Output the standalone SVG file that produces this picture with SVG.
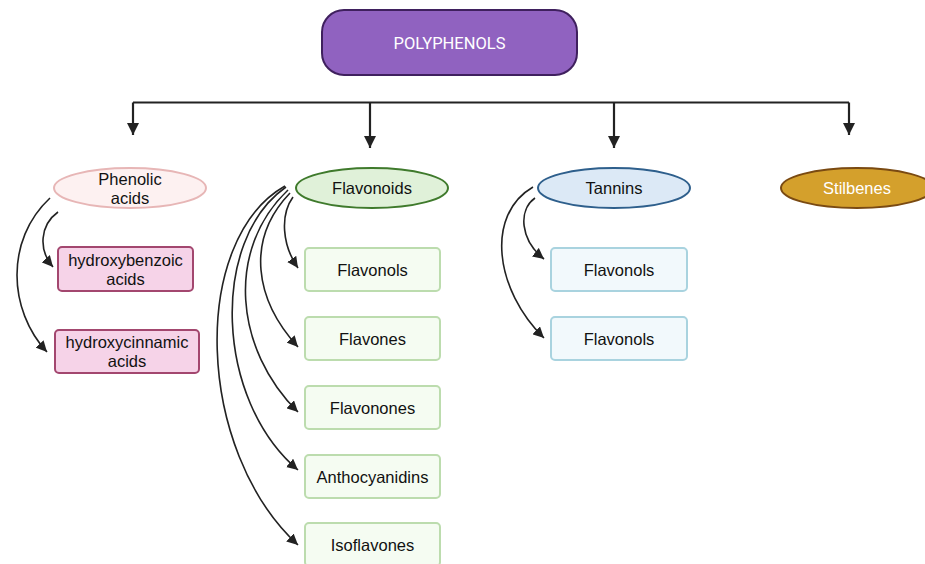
<svg xmlns="http://www.w3.org/2000/svg" width="925" height="564" viewBox="0 0 925 564">
<defs>
<marker id="ah" viewBox="0 0 10 10" refX="10" refY="5" markerWidth="11" markerHeight="11" markerUnits="userSpaceOnUse" orient="auto"><path d="M0,0 L10,5 L0,10 z" fill="#222"/></marker>
<marker id="ah2" viewBox="0 0 10 10" refX="10" refY="5" markerWidth="13" markerHeight="12" markerUnits="userSpaceOnUse" orient="auto"><path d="M0,0 L10,5 L0,10 z" fill="#222"/></marker>
</defs>
<style>
text{font-family:"Liberation Sans",Arial,sans-serif;font-size:16.5px;fill:#111;text-anchor:middle;dominant-baseline:central}
.w{fill:#fff}
.r{font-family:Roboto,"Liberation Sans",sans-serif;font-size:16.5px}
.c{fill:none;stroke:#222;stroke-width:1.6}
.s{fill:none;stroke:#222;stroke-width:2.2}
.pink{fill:#f6d3e8;stroke:#a3476f;stroke-width:2}
.green{fill:#f5fcf2;stroke:#bcdcae;stroke-width:2}
.blue{fill:#f2f9fc;stroke:#a9d3df;stroke-width:2}
</style>
<rect width="925" height="564" fill="#fff"/>
<g id="connectors">
<path class="s" d="M133,102.5 H849"/>
<path class="s" d="M133,102.5 V135" marker-end="url(#ah2)"/>
<path class="s" d="M370,102.5 V148" marker-end="url(#ah2)"/>
<path class="s" d="M614,102.5 V148" marker-end="url(#ah2)"/>
<path class="s" d="M849,102.5 V135" marker-end="url(#ah2)"/>
<path class="c" d="M58,212 C40,225 38,250 53,267" marker-end="url(#ah)"/>
<path class="c" d="M50,198 C5,240 8,310 47,352" marker-end="url(#ah)"/>
<path class="c" d="M293,197 C280,215 282,245 298,268" marker-end="url(#ah)"/>
<path class="c" d="M290,193 C245,240 255,300 298,347" marker-end="url(#ah)"/>
<path class="c" d="M288,190 C225,250 235,350 298,412" marker-end="url(#ah)"/>
<path class="c" d="M286,187 C210,240 215,400 298,470" marker-end="url(#ah)"/>
<path class="c" d="M285,186 C190,240 195,450 298,545" marker-end="url(#ah)"/>
<path class="c" d="M535,198 C518,210 520,240 544,259" marker-end="url(#ah)"/>
<path class="c" d="M533,187 C485,215 495,290 544,338" marker-end="url(#ah)"/>
</g>
<g id="polyphenols"><rect x="322" y="10" width="255" height="65" rx="22" fill="#9062c0" stroke="#3f205e" stroke-width="2"/><text class="w r" x="449.5" y="43">POLYPHENOLS</text></g>
<g id="phenolic"><ellipse cx="130" cy="188" rx="76" ry="20" fill="#fdf1f1" stroke="#e7b6b6" stroke-width="2"/><text x="130" y="179">Phenolic</text><text x="130" y="198">acids</text></g>
<g id="flavonoids"><ellipse cx="372" cy="188" rx="76" ry="20" fill="#e0f1d9" stroke="#3f7a2c" stroke-width="2"/><text x="372" y="188">Flavonoids</text></g>
<g id="tannins"><ellipse cx="614" cy="188" rx="76" ry="20" fill="#dce9f6" stroke="#2e5f8c" stroke-width="2"/><text x="614" y="188">Tannins</text></g>
<g id="stilbenes"><ellipse cx="857" cy="188" rx="76" ry="20" fill="#d4a02c" stroke="#7a4a12" stroke-width="2"/><text class="w" x="857" y="188">Stilbenes</text></g>
<g id="hydroxybenzoic"><rect class="pink" x="58" y="247" width="135" height="44" rx="4"/><text x="125.5" y="260">hydroxybenzoic</text><text x="125.5" y="279">acids</text></g>
<g id="hydroxycinnamic"><rect class="pink" x="55" y="330" width="144" height="43" rx="4"/><text x="127" y="342">hydroxycinnamic</text><text x="127" y="361">acids</text></g>
<g id="flavonols"><rect class="green" x="305" y="248" width="135" height="43" rx="4"/><text x="372.5" y="269.5">Flavonols</text></g>
<g id="flavones"><rect class="green" x="305" y="317" width="135" height="43" rx="4"/><text x="372.5" y="338.5">Flavones</text></g>
<g id="flavonones"><rect class="green" x="305" y="386" width="135" height="43" rx="4"/><text x="372.5" y="407.5">Flavonones</text></g>
<g id="anthocyanidins"><rect class="green" x="305" y="455" width="135" height="43" rx="4"/><text x="372.5" y="476.5">Anthocyanidins</text></g>
<g id="isoflavones"><rect class="green" x="305" y="523" width="135" height="43" rx="4"/><text x="372.5" y="545">Isoflavones</text></g>
<g id="tannin-flavonols-1"><rect class="blue" x="551" y="248" width="136" height="43" rx="4"/><text x="619" y="269.5">Flavonols</text></g>
<g id="tannin-flavonols-2"><rect class="blue" x="551" y="317" width="136" height="43" rx="4"/><text x="619" y="338.5">Flavonols</text></g>
</svg>
